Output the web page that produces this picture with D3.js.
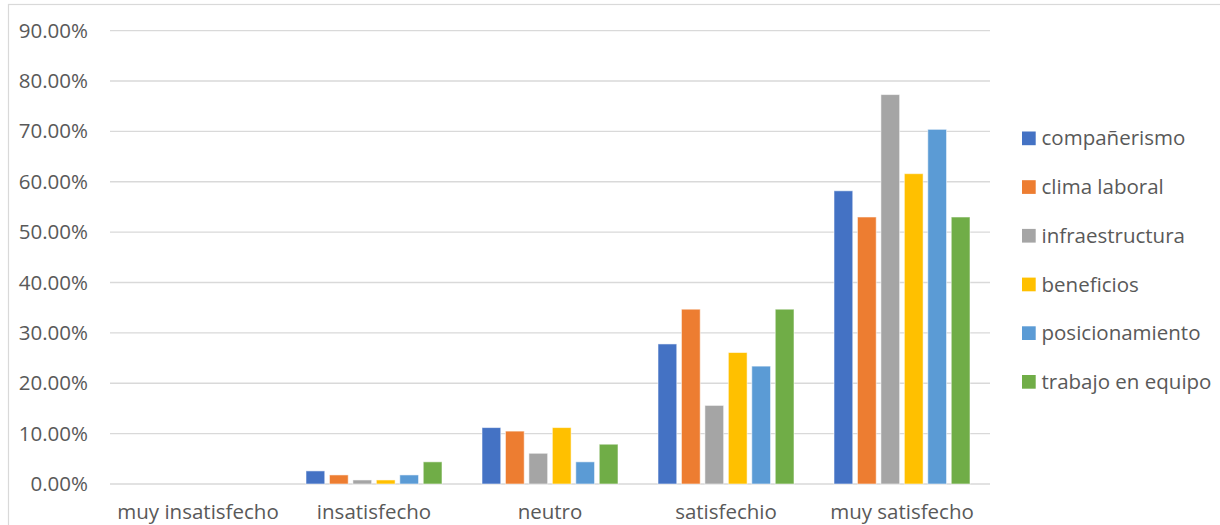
<!DOCTYPE html>
<html>
<head>
<meta charset="utf-8">
<script src="https://cdn.jsdelivr.net/npm/d3@7"></script>
<style>
  html, body { margin: 0; padding: 0; background: #fff; }
  svg { display: block; }
  text { font-family: "Open Sans", "Liberation Sans", sans-serif; fill: #595959; }
</style>
</head>
<body>
<svg id="chart" width="1220" height="525"></svg>
<script>
// Response categories (x axis)
const categories = ["muy insatisfecho", "insatisfecho", "neutro", "satisfechio", "muy satisfecho"];

// Evaluated dimensions (one bar per series in each category)
const seriesNames = ["compañerismo", "clima laboral", "infraestructura", "beneficios", "posicionamiento", "trabajo en equipo"];

// Share of responses per dimension, in category order
const companerismo     = [0, 0.026, 0.112, 0.278, 0.582];
const climaLaboral     = [0, 0.018, 0.105, 0.347, 0.530];
const infraestructura  = [0, 0.008, 0.061, 0.156, 0.773];
const beneficios       = [0, 0.008, 0.112, 0.261, 0.616];
const posicionamiento  = [0, 0.018, 0.044, 0.234, 0.704];
const trabajoEnEquipo  = [0, 0.044, 0.079, 0.347, 0.530];

const seriesValues = [companerismo, climaLaboral, infraestructura, beneficios, posicionamiento, trabajoEnEquipo];
const colors = ["#4472C4", "#ED7D31", "#A5A5A5", "#FFC000", "#5B9BD5", "#70AD47"];

// Y axis tick values
const yTicks = [0, 0.1, 0.2, 0.3, 0.4, 0.5, 0.6, 0.7, 0.8, 0.9];

const svg = d3.select("#chart");

// Outer chart frame
svg.append("rect")
  .attr("x", 8.5).attr("y", 4.5)
  .attr("width", 1230).attr("height", 560)
  .attr("fill", "none").attr("stroke", "#d9d9d9").attr("stroke-width", 1.2);

const plot = { left: 110, right: 990, top: 30.6, bottom: 484 };

const y = d3.scaleLinear().domain([0, 0.9]).range([plot.bottom, plot.top]);

const x0 = d3.scaleBand()
  .domain(categories)
  .range([plot.left, plot.right])
  .paddingInner(40 / 176)
  .paddingOuter(20 / 176);

const x1 = d3.scaleBand()
  .domain(seriesNames)
  .range([0, x0.bandwidth()])
  .paddingInner(0.2)
  .paddingOuter(0);

// Gridlines
svg.append("g")
  .selectAll("line")
  .data(yTicks)
  .join("line")
  .attr("x1", plot.left).attr("x2", plot.right)
  .attr("y1", d => y(d)).attr("y2", d => y(d))
  .attr("stroke", "#d9d9d9").attr("stroke-width", 1.3);

// Y axis labels
const yAxis = d3.axisLeft(y)
  .tickValues(yTicks)
  .tickFormat(d => (d * 100).toFixed(2) + "%")
  .tickSize(0)
  .tickPadding(22);

svg.append("g")
  .attr("transform", `translate(${plot.left},0)`)
  .call(yAxis)
  .call(g => g.select(".domain").remove())
  .call(g => g.selectAll("text")
    .attr("font-size", 20.5)
    .attr("font-family", "'Open Sans', sans-serif")
    .attr("fill", "#595959"));

// X axis labels
const xAxis = d3.axisBottom(x0).tickSize(0).tickPadding(0);
svg.append("g")
  .attr("transform", `translate(0,${plot.bottom})`)
  .call(xAxis)
  .call(g => g.select(".domain").remove())
  .call(g => g.selectAll("text")
    .attr("dy", null)
    .attr("y", 35)
    .attr("font-size", 20.5)
    .attr("font-family", "'Open Sans', sans-serif")
    .attr("fill", "#595959"));

// Bars
const groups = svg.append("g")
  .selectAll("g")
  .data(categories)
  .join("g")
  .attr("transform", c => `translate(${x0(c)},0)`);

groups.selectAll("rect")
  .data((c, ci) => seriesNames.map((s, si) => ({ s, si, v: seriesValues[si][ci] })))
  .join("rect")
  .filter(d => d.v > 0)
  .attr("x", d => x1(d.s))
  .attr("width", x1.bandwidth())
  .attr("y", d => y(d.v))
  .attr("height", d => y(0) - y(d.v))
  .attr("fill", d => colors[d.si])
  .attr("stroke", "#ffffff")
  .attr("stroke-opacity", 0.55)
  .attr("stroke-width", 1);

// Legend
const legend = svg.append("g")
  .selectAll("g")
  .data(seriesNames)
  .join("g")
  .attr("transform", (d, i) => `translate(1022,${138.3 + i * 48.7})`);

legend.append("rect")
  .attr("x", 0).attr("y", -6.8)
  .attr("width", 13.7).attr("height", 13.7)
  .attr("fill", (d, i) => colors[i]);

legend.append("text")
  .attr("x", 19.5)
  .attr("y", 0)
  .attr("dy", "0.35em")
  .attr("font-size", 20.5)
  .text(d => d);
</script>
</body>
</html>
